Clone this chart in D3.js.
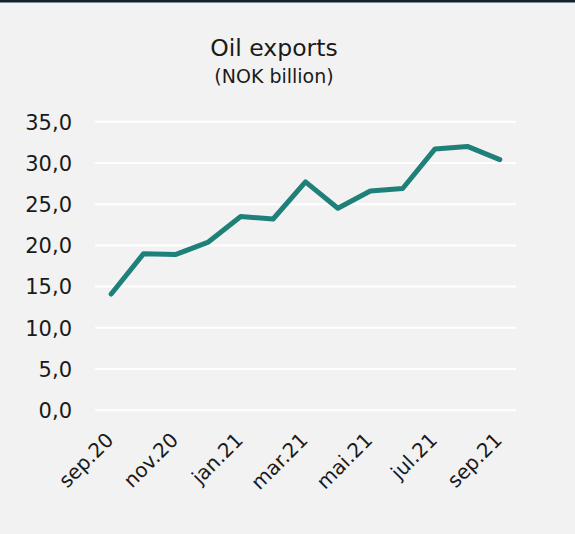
<!DOCTYPE html>
<html>
<head>
<meta charset="utf-8">
<script src="https://cdn.jsdelivr.net/npm/d3@7"></script>
<style>
  html, body { margin: 0; padding: 0; background: #f2f2f2; }
  svg { display: block; }
  text { font-family: "DejaVu Sans", Verdana, sans-serif; fill: #1a1a1a; }
</style>
</head>
<body>
<svg id="chart" width="575" height="534"></svg>
<script>
// Monthly oil exports, NOK billion
const months = ["sep.20","okt.20","nov.20","des.20","jan.21","feb.21","mar.21",
                "apr.21","mai.21","jun.21","jul.21","aug.21","sep.21"];
const exportsNOK = [14.1, 19.0, 18.9, 20.4, 23.5, 23.2, 27.7, 24.5, 26.6, 26.9, 31.7, 32.0, 30.4];
const yTicks = [0, 5, 10, 15, 20, 25, 30, 35];
const shownMonths = ["sep.20","nov.20","jan.21","mar.21","mai.21","jul.21","sep.21"];

const svg = d3.select("#chart");
const W = 575, H = 534;

// frame
svg.append("rect").attr("x", 0).attr("y", 0).attr("width", W).attr("height", H).attr("fill", "#f2f2f2");
svg.append("rect").attr("x", 0).attr("y", 0).attr("width", W).attr("height", 2.5).attr("fill", "#0f2230");

const plotL = 95, plotR = 516, plotT = 121.7, plotB = 410.3;

const x = d3.scalePoint().domain(months).range([plotL, plotR]).padding(0.5);
const y = d3.scaleLinear().domain([0, 35]).range([plotB, plotT]);

// grid lines
svg.append("g").selectAll("line").data(yTicks).join("line")
  .attr("x1", plotL).attr("x2", plotR)
  .attr("y1", d => y(d)).attr("y2", d => y(d))
  .attr("stroke", "#ffffff").attr("stroke-width", 2);

// y axis labels
const yAxis = d3.axisLeft(y).tickValues(yTicks).tickSize(0).tickPadding(0)
  .tickFormat(d => d3.format(".1f")(d).replace(".", ","));
const gy = svg.append("g").attr("transform", "translate(72,0)").call(yAxis);
gy.select(".domain").remove();
gy.selectAll("text").attr("font-size", 21).attr("font-family", "DejaVu Sans, sans-serif")
  .attr("fill", "#1a1a1a").attr("dy", "0.35em");

// x axis labels, rotated
const xAxis = d3.axisBottom(x).tickValues(shownMonths).tickSize(0).tickPadding(0);
const gx = svg.append("g").attr("transform", `translate(0,${plotB})`).call(xAxis);
gx.select(".domain").remove();
gx.selectAll("text")
  .attr("font-size", 20).attr("font-family", "DejaVu Sans, sans-serif").attr("fill", "#1a1a1a")
  .attr("text-anchor", "end")
  .attr("x", 0).attr("y", 0).attr("dy", "0")
  .attr("transform", "translate(3,31) rotate(-45)");

// line
const line = d3.line().x((d, i) => x(months[i])).y(d => y(d));
svg.append("path").datum(exportsNOK)
  .attr("d", line)
  .attr("fill", "none").attr("stroke", "#1f8079").attr("stroke-width", 5)
  .attr("stroke-linejoin", "round").attr("stroke-linecap", "round");

// titles
svg.append("text").attr("x", 274).attr("y", 56).attr("text-anchor", "middle")
  .attr("font-size", 23.5).text("Oil exports");
svg.append("text").attr("x", 274).attr("y", 83).attr("text-anchor", "middle")
  .attr("font-size", 19).text("(NOK billion)");
</script>
</body>
</html>
